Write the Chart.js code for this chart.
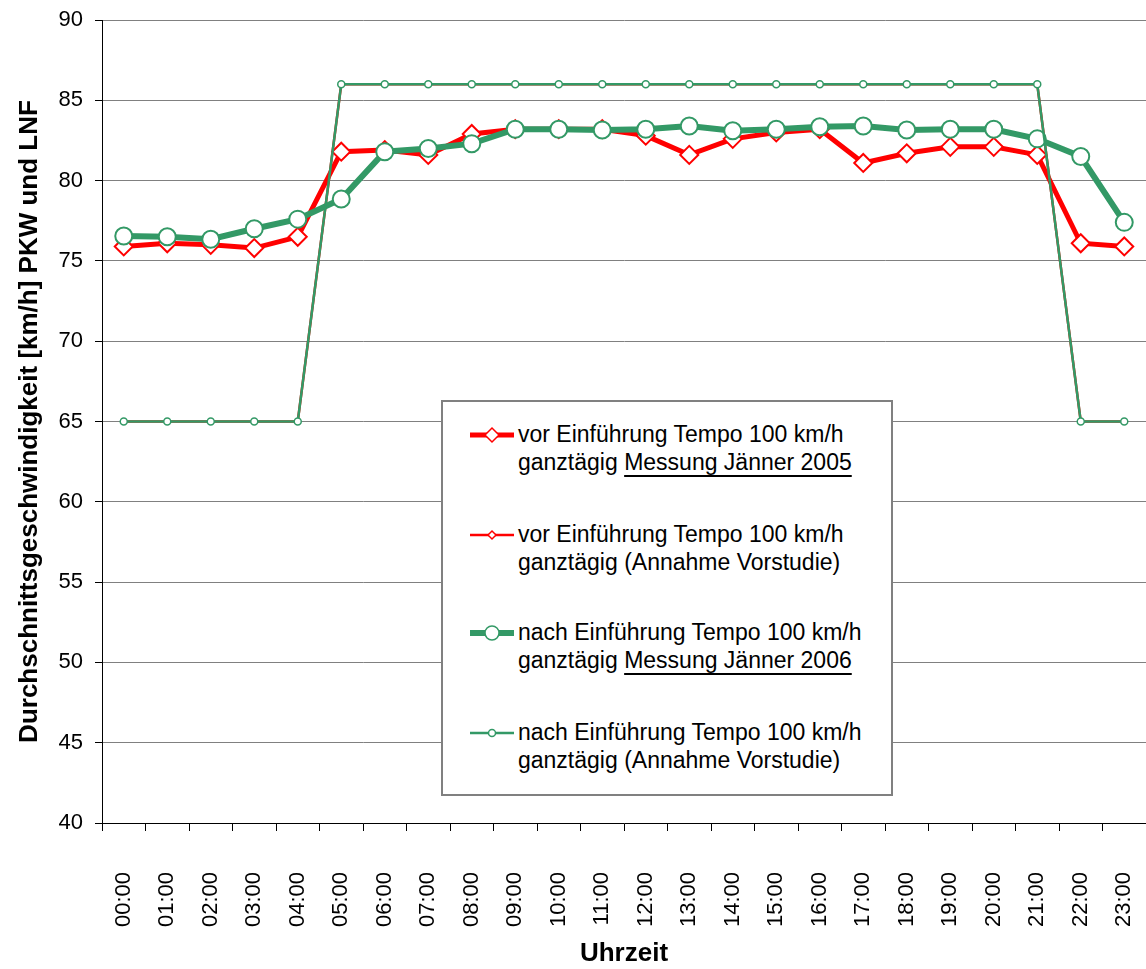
<!DOCTYPE html>
<html>
<head>
<meta charset="utf-8">
<script src="https://cdn.jsdelivr.net/npm/chart.js@4"></script>
<style>
  body { margin: 0; background: #fff; }
  #wrap { position: relative; width: 1146px; height: 969px; }
  #legend {
    position: absolute; left: 441px; top: 400px; width: 452px; height: 396px;
    box-sizing: border-box; border: 2px solid #808080; background: #fff;
    font-family: "Liberation Sans", Arial, sans-serif; font-size: 23px; color: #000;
  }
  .item { position: absolute; left: 0; width: 100%; }
  .item svg { position: absolute; left: 25px; top: 2px; }
  .item .txt { position: absolute; left: 75px; top: 0; line-height: 27.7px; white-space: nowrap; }
  .u { text-decoration: underline; text-decoration-thickness: 1.5px; text-underline-offset: 5px; }
</style>
</head>
<body>
<div id="wrap">
  <canvas id="myChart" width="1146" height="969"></canvas>
  <div id="legend"></div>
</div>
<script>
// Uhrzeit (Kategorien)
const hours = ['00:00', '01:00', '02:00', '03:00', '04:00', '05:00', '06:00', '07:00',
  '08:00', '09:00', '10:00', '11:00', '12:00', '13:00', '14:00', '15:00',
  '16:00', '17:00', '18:00', '19:00', '20:00', '21:00', '22:00', '23:00'];

// vor Einführung, Messung Jänner 2005
const vorMessung = [75.9, 76.1, 76.0, 75.8, 76.5, 81.8, 81.9, 81.6, 82.9, 83.2, 83.2, 83.2,
  82.8, 81.6, 82.6, 83.0, 83.2, 81.1, 81.7, 82.1, 82.1, 81.6, 76.1, 75.9];
// vor Einführung, Annahme Vorstudie
const vorAnnahme = [65, 65, 65, 65, 65, 86, 86, 86, 86, 86, 86, 86,
  86, 86, 86, 86, 86, 86, 86, 86, 86, 86, 65, 65];
// nach Einführung, Messung Jänner 2006
const nachMessung = [76.55, 76.5, 76.35, 77.0, 77.6, 78.85, 81.8, 82.0, 82.3, 83.2, 83.2, 83.15,
  83.2, 83.4, 83.1, 83.2, 83.35, 83.4, 83.15, 83.2, 83.2, 82.6, 81.5, 77.4];
// nach Einführung, Annahme Vorstudie
const nachAnnahme = [65, 65, 65, 65, 65, 86, 86, 86, 86, 86, 86, 86,
  86, 86, 86, 86, 86, 86, 86, 86, 86, 86, 65, 65];

const yTicks = [40, 45, 50, 55, 60, 65, 70, 75, 80, 85, 90];

const RED = '#ff0000';
const GREEN = '#339966';
const FONT = '"Liberation Sans", Arial, sans-serif';

const ctx = document.getElementById('myChart').getContext('2d');
const myChart = new Chart(ctx, {
  type: 'line',
  data: {
    labels: hours,
    datasets: [
      {
        label: 'vor Einführung Tempo 100 km/h ganztägig Messung Jänner 2005',
        data: vorMessung, borderColor: RED, borderWidth: 5,
        pointStyle: 'rectRot', pointRadius: 9, pointBorderWidth: 2,
        pointBackgroundColor: '#fff', pointBorderColor: RED, order: 4
      },
      {
        label: 'vor Einführung Tempo 100 km/h ganztägig (Annahme Vorstudie)',
        data: vorAnnahme, borderColor: RED, borderWidth: 2.5,
        pointStyle: 'rectRot', pointRadius: 3, pointBorderWidth: 1,
        pointBackgroundColor: '#fff', pointBorderColor: RED, order: 3
      },
      {
        label: 'nach Einführung Tempo 100 km/h ganztägig Messung Jänner 2006',
        data: nachMessung, borderColor: GREEN, borderWidth: 6,
        pointStyle: 'circle', pointRadius: 8.5, pointBorderWidth: 2,
        pointBackgroundColor: '#fff', pointBorderColor: GREEN, order: 2
      },
      {
        label: 'nach Einführung Tempo 100 km/h ganztägig (Annahme Vorstudie)',
        data: nachAnnahme, borderColor: GREEN, borderWidth: 2.5,
        pointStyle: 'circle', pointRadius: 3.5, pointBorderWidth: 1.5,
        pointBackgroundColor: '#fff', pointBorderColor: GREEN, order: 1
      }
    ]
  },
  options: {
    responsive: false,
    animation: false,
    layout: { autoPadding: false, padding: { top: 20, left: 0, right: 0, bottom: 0 } },
    plugins: { legend: { display: false }, tooltip: { enabled: false } },
    elements: { line: { tension: 0 } },
    scales: {
      x: {
        offset: true,
        afterFit: (scale) => {
          scale.height = 146;
          scale.paddingLeft = 0;
          scale.paddingRight = 0;
        },
        grid: { offset: true, drawOnChartArea: false, tickLength: 8, color: '#000' },
        border: { color: '#000', width: 1 },
        ticks: {
          autoSkip: false, maxRotation: 90, minRotation: 90, padding: 41,
          color: '#000', font: { family: FONT, size: 22 }
        },
        title: {
          display: true, text: 'Uhrzeit', color: '#000', padding: { top: 0, bottom: 0 },
          font: { family: FONT, size: 26, weight: 'bold' }
        }
      },
      y: {
        min: 40, max: 90,
        afterFit: (scale) => {
          scale.width = 102;
          scale.paddingTop = 0;
          scale.paddingBottom = 0;
        },
        afterBuildTicks: (scale) => { scale.ticks = yTicks.map(v => ({ value: v })); },
        grid: { color: '#808080', tickColor: '#000', tickLength: 7 },
        border: { color: '#000', width: 1 },
        ticks: { padding: 12, color: '#000', font: { family: FONT, size: 22 } },
        title: {
          display: true, text: 'Durchschnittsgeschwindigkeit [km/h] PKW und LNF',
          color: '#000', padding: { top: 14, bottom: 0 },
          font: { family: FONT, size: 26, weight: 'bold' }
        }
      }
    }
  }
});

// Legende im Diagramm, wie im Original
const legendItems = [
  { color: RED, width: 5, marker: 'diamond', r: 7, line1: 'vor Einführung Tempo 100 km/h', pre: 'ganztägig ', under: 'Messung Jänner 2005' },
  { color: RED, width: 2.5, marker: 'diamond', r: 4, line1: 'vor Einführung Tempo 100 km/h', pre: 'ganztägig (Annahme Vorstudie)', under: '' },
  { color: GREEN, width: 6, marker: 'circle', r: 7, line1: 'nach Einführung Tempo 100 km/h', pre: 'ganztägig ', under: 'Messung Jänner 2006' },
  { color: GREEN, width: 2.5, marker: 'circle', r: 3.5, line1: 'nach Einführung Tempo 100 km/h', pre: 'ganztägig (Annahme Vorstudie)', under: '' }
];
const itemTops = [19, 119, 217, 317];

const legend = document.getElementById('legend');
legendItems.forEach((it, i) => {
  const div = document.createElement('div');
  div.className = 'item';
  div.style.top = itemTops[i] + 'px';
  let mark;
  if (it.marker === 'diamond') {
    const r = it.r;
    mark = `<polygon points="${24 - r},12 24,${12 - r} ${24 + r},12 24,${12 + r}" fill="#fff" stroke="${it.color}" stroke-width="1.5"/>`;
  } else {
    mark = `<circle cx="24" cy="12" r="${it.r}" fill="#fff" stroke="${it.color}" stroke-width="1.5"/>`;
  }
  div.innerHTML =
    `<svg width="48" height="24"><line x1="2" y1="12" x2="46" y2="12" stroke="${it.color}" stroke-width="${it.width}"/>${mark}</svg>` +
    `<div class="txt">${it.line1}<br>${it.pre}${it.under ? '<span class="u">' + it.under + '</span>' : ''}</div>`;
  legend.appendChild(div);
});
</script>
</body>
</html>
